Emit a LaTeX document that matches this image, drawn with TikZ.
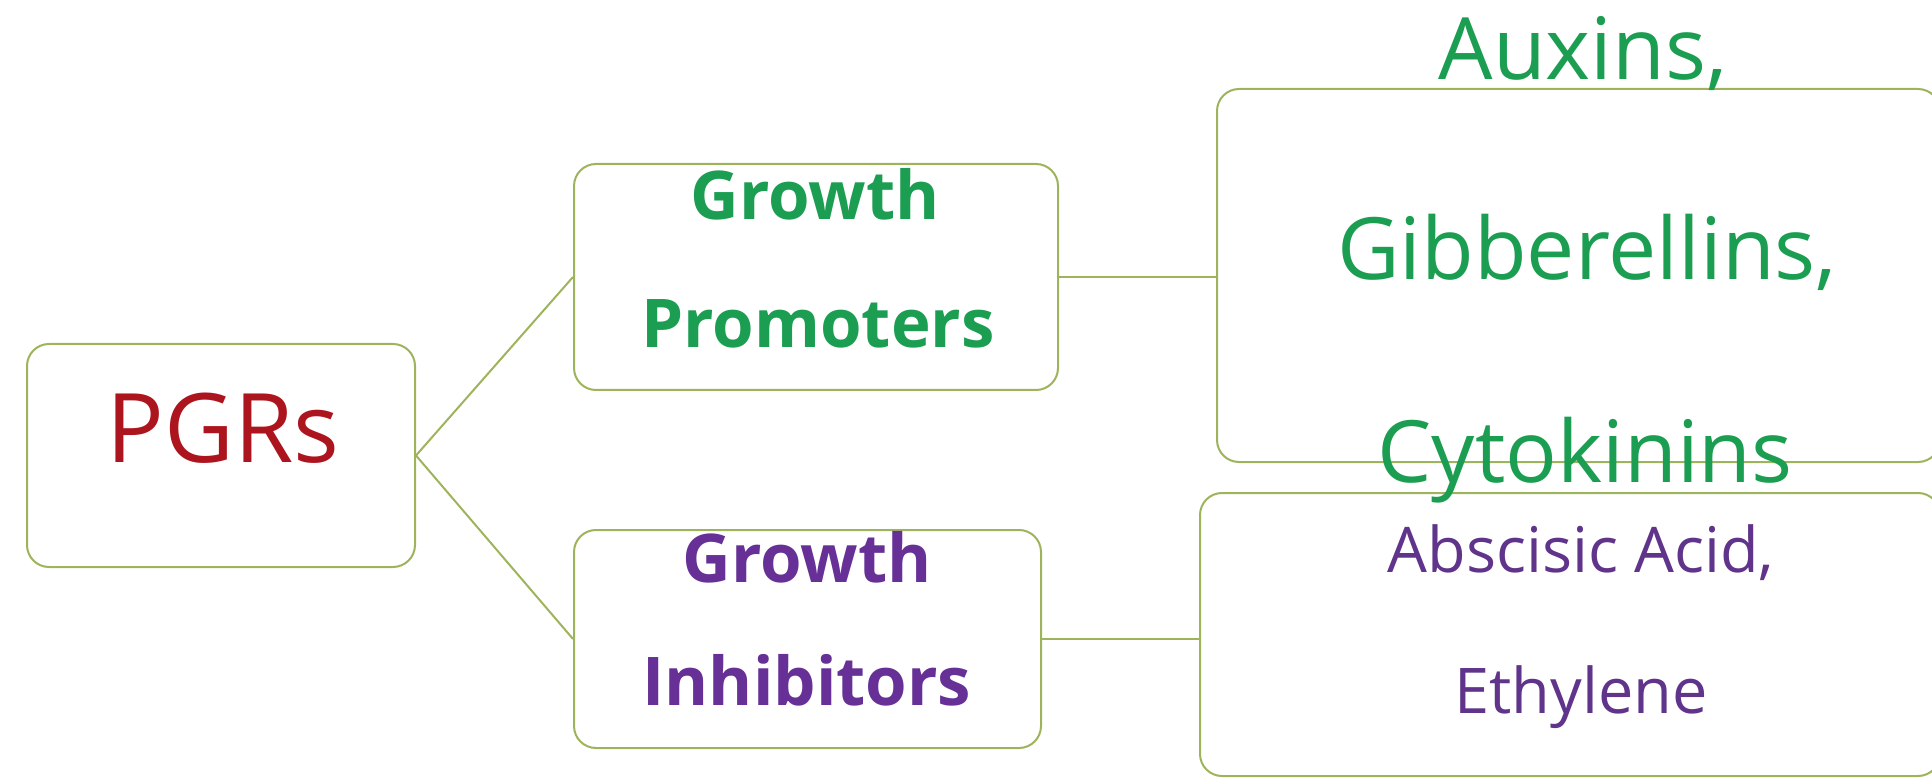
\documentclass[tikz,border=0pt]{standalone}
\usepackage{fontspec}
\setmainfont{Open Sans}
\usepackage{tikz}

\definecolor{boxline}{RGB}{158,180,92}
\definecolor{pgrred}{RGB}{172,20,30}
\definecolor{promgreen}{RGB}{28,158,82}
\definecolor{inhpurple}{RGB}{102,48,150}
\definecolor{listpurple}{RGB}{96,52,138}

\begin{document}
\begin{tikzpicture}[x=0.5pt,y=-0.5pt,
    box/.style={draw=boxline, line width=1pt, rounded corners=11pt,
        fill=white, inner sep=0pt},
    link/.style={draw=boxline, line width=1pt},
    word/.style={anchor=base, inner sep=0pt}]

        \clip (0,0) rectangle (1932,780);

        % boxes
        \node[box, minimum width=194pt, minimum height=111.5pt] (pgrs) at (221,455.5) {};
        \node[box, minimum width=242pt, minimum height=113pt] (prom) at (816,277) {};
        \node[box, minimum width=233.5pt, minimum height=109pt] (inhib) at (807.5,639) {};
        \node[box, minimum width=361.5pt, minimum height=186.5pt] (promlist) at (1578.5,275.5) {};
        \node[box, minimum width=370pt, minimum height=141.5pt] (inhiblist) at (1570,634.5) {};

        % connectors
        \draw[link] (pgrs.east) -- (prom.west);
        \draw[link] (pgrs.east) -- (inhib.west);
        \draw[link] (prom.east) -- (prom.east -| promlist.west);
        \draw[link] (inhib.east) -- (inhib.east -| inhiblist.west);

        % texts
        \node[word, text=pgrred, font=\fontsize{48}{56}\selectfont] (pgrstext) at (223,462) {PGRs};

        \node[word, text=promgreen, font=\bfseries\fontsize{33.6}{40}\selectfont] (promA) at (815,220) {Growth};
        \node[word, text=promgreen, font=\bfseries\fontsize{33.6}{40}\selectfont] (promB) at (818,348) {Promoters};

        \node[word, text=inhpurple, font=\bfseries\fontsize{33.6}{40}\selectfont] (inhA) at (807,582) {Growth};
        \node[word, text=inhpurple, font=\bfseries\fontsize{33.6}{40}\selectfont] (inhB) at (807,705) {Inhibitors};

        \node[word, text=promgreen, font=\fontsize{43}{50}\selectfont] (aux) at (1583,80) {Auxins,};
        \node[word, text=promgreen, font=\fontsize{43}{50}\selectfont] (gib) at (1587,280) {Gibberellins,};
        \node[word, text=promgreen, font=\fontsize{43}{50}\selectfont] (cyt) at (1585,482) {Cytokinins};

        \node[word, text=listpurple, font=\fontsize{31.5}{37}\selectfont] (aba) at (1581,572) {Abscisic Acid,};
        \node[word, text=listpurple, font=\fontsize{31.5}{37}\selectfont] (eth) at (1581,713) {Ethylene};

    \end{tikzpicture}
\end{document}
